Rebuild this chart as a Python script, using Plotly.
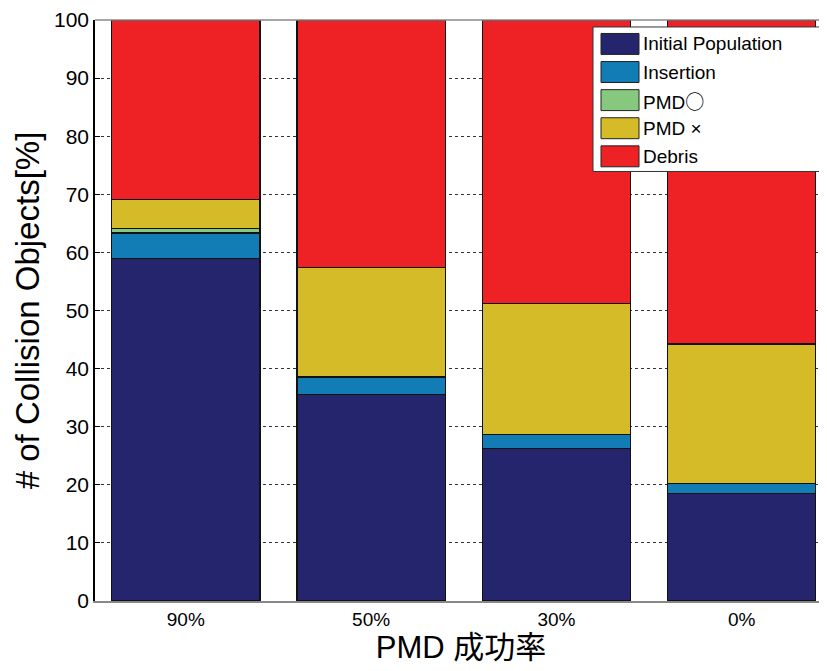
import plotly.graph_objects as go

categories = ["90%", "50%", "30%", "0%"]
series_names = ["Initial Population", "Insertion", "PMD○", "PMD×", "Debris"]
legend_labels = ["Initial Population", "Insertion",
                 "PMD<span style='font-family:Noto Sans CJK JP'>○</span>",
                 "PMD ×", "Debris"]
initial_population = [58.9, 35.6, 26.2, 18.5]
insertion = [4.45, 2.9, 2.5, 1.7]
pmd_success = [0.8, 0.15, 0.0, 0.0]
pmd_fail = [4.9, 18.8, 22.5, 24.05]
debris = [30.95, 42.55, 48.8, 55.75]
colors = ["#25256D", "#127CB5", "#86C97E", "#D5BB27", "#EE2225"]
y_ticks = [0, 10, 20, 30, 40, 50, 60, 70, 80, 90, 100]

values = [initial_population, insertion, pmd_success, pmd_fail, debris]

fig = go.Figure()
for name, vals, col in zip(series_names, values, colors):
    fig.add_trace(go.Bar(
        x=categories, y=vals, name=name,
        marker=dict(color=col, line=dict(color="#111111", width=1.2)),
        showlegend=False,
    ))

# page has an 8px body offset
OFF = 8
W, H = 827 - OFF, 671 - OFF
ml, mr, mt, mb = 95 - OFF, 0, 18 - OFF, 70
pw, ph = W - ml - mr, H - mt - mb
X0, Y1 = 95, 601  # page coords of plot-area left / bottom

def px_x(x):
    return (x - X0) / pw

def px_y(y):
    return (Y1 - y) / ph

fig.add_shape(type="rect", xref="paper", yref="paper",
              x0=px_x(593), x1=px_x(826), y0=px_y(170), y1=px_y(25),
              fillcolor="white", line=dict(color="#333333", width=1), layer="above")
for i, (lab, col) in enumerate(zip(legend_labels, colors)):
    yc = 42 + i * 28.2
    fig.add_shape(type="rect", xref="paper", yref="paper",
                  x0=px_x(601), x1=px_x(639), y0=px_y(yc + 10.5), y1=px_y(yc - 10.5),
                  fillcolor=col, line=dict(color="#222222", width=1), layer="above")
    fig.add_annotation(xref="paper", yref="paper", x=px_x(641), y=px_y(yc),
                       text=lab, showarrow=False, xanchor="left", yanchor="middle",
                       font=dict(family="Liberation Sans, Arial", size=19, color="black"))

fig.update_layout(
    width=W, height=H,
    margin=dict(l=ml, r=mr, t=mt, b=mb),
    barmode="stack", bargap=0.2,
    plot_bgcolor="white", paper_bgcolor="white",
    font=dict(family="Liberation Sans, Arial", color="black"),
    xaxis=dict(
        range=[-0.49, 3.46], showgrid=False,
        showline=True, linecolor="#888888", linewidth=1.5, mirror=False,
        ticks="", tickfont=dict(size=19),
        title=dict(text="PMD 成功率", font=dict(family="Liberation Sans, Noto Sans CJK JP", size=31), standoff=4),
    ),
    yaxis=dict(
        range=[0, 100], tickvals=y_ticks, ticktext=[str(t) for t in y_ticks],
        showgrid=True, gridcolor="#333333", griddash="3px,3px", gridwidth=1,
        showline=True, linecolor="black", linewidth=1.5, zeroline=False,
        ticks="inside", ticklen=5, tickcolor="black",
        tickfont=dict(size=21), ticklabeloverflow="allow",
        title=dict(text="# of Collision Objects[%]", font=dict(family="Liberation Sans, Arial", size=33), standoff=4),
    ),
)
fig.add_shape(type="line", xref="paper", yref="paper", x0=0, x1=1, y0=1, y1=1,
              line=dict(color="#888888", width=1.5), layer="above")

fig.write_html("out.html")
